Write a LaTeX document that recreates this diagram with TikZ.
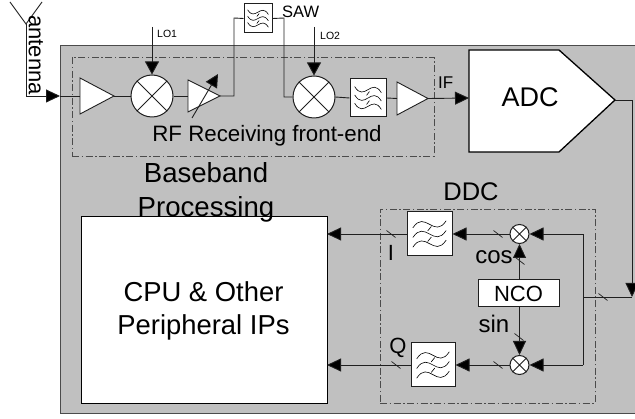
\documentclass[tikz,border=0pt]{standalone}
\usepackage{fontspec}
\setmainfont{Liberation Sans}
\usetikzlibrary{arrows.meta,calc}
\definecolor{panel}{gray}{0.753}
\definecolor{ink}{gray}{0.12}
\tikzset{
  txt/.style={inner sep=0pt,text=black,font=\fontsize{#1}{#1}\selectfont},
  wire/.style={draw=ink,line width=0.9pt},
  arr/.style={wire,-{Triangle[length=14pt,width=13pt,fill=black]}},
  smallarr/.style={wire,-{Triangle[length=13pt,width=14pt,fill=black]}},
  dashbox/.style={draw=ink!80,line width=0.6pt,dash pattern=on 7pt off 2.5pt on 1.5pt off 2.5pt},
  blockbox/.style={draw=ink,fill=white,line width=1pt,inner sep=0pt,minimum width=#1},
  tickmark/.style={draw=ink,line width=0.7pt},
  mixnode/.style={circle,draw=ink,fill=white,line width=1pt,inner sep=0pt,minimum size=#1},
}
% mixer: name, position, diameter
\newcommand{\mixer}[3]{%
  \node[mixnode=#3] (#1) at (#2) {};
  \draw[wire] (#1.45)--(#1.225) (#1.135)--(#1.315);
}
% amplifier: name, x-left, y-top, y-bottom, x-tip
\newcommand{\amp}[5]{%
  \coordinate (#1in) at (#2,{(#3+#4)/2});
  \coordinate (#1out) at (#5,{(#3+#4)/2});
  \filldraw[draw=ink,fill=white,line width=0.9pt] (#2,#3)--(#2,#4)--(#1out)--cycle;
}
% filter: name, position, width, height, wave sign
\newcommand{\filt}[5]{%
  \node[blockbox=#3pt,minimum height=#4pt] (#1) at (#2) {};
  \begin{scope}[shift={(#1.center)},x=#3pt,y=-#4pt]
    \foreach \dy in {-0.22,0,0.22}{
      \draw[draw=black,line width=0.6pt] (-0.37,{\dy+#5*0.08}) .. controls (-0.1,{\dy-#5*0.34}) and (0.1,{\dy+#5*0.34}) .. (0.37,{\dy-#5*0.08});
    }
    \draw[draw=black,line width=0.6pt] (-0.04,{0.17})--(0.04,{0.07}) (-0.04,{-0.07})--(0.04,{-0.17});
  \end{scope}
}
\newcommand{\tickat}[1]{\draw[tickmark] ($(#1)+(-4.5,-3.5)$)--($(#1)+(4.5,3.5)$);}
\begin{document}
\begin{tikzpicture}[x=1pt,y=-1pt]
\useasboundingbox (0,0) rectangle (635,419);
% panel
\filldraw[draw=ink!80,fill=panel,line width=1pt] (60,46)--(60,414)--(636,414)--(636,46)--cycle;
% group frames
\node[dashbox,inner sep=0pt,minimum width=362pt,minimum height=99pt] (rfbox) at (253,106.5) {};
\node[dashbox,inner sep=0pt,minimum width=215pt,minimum height=194pt] (ddcbox) at (487.5,306) {};
% antenna
\coordinate (antbase) at (26,24);
\coordinate (antl) at (10,2);
\coordinate (antr) at (42,2);
\coordinate (antfoot) at (26,96);
\coordinate (panelin) at (60,96);
\draw[wire] (antl)--(antbase)--(antr);
\node[txt=22,rotate=-90] (antlabel) at (36,55) {antenna};
% RF chain
\amp{ampa}{80}{78}{114}{114}
\mixer{mixa}{152,96}{42pt}
\amp{ampb}{188}{80}{112}{220}
\filt{sawbox}{258,18.5}{28}{29}{-1}
\mixer{mixb}{314,97}{42pt}
\filt{filtrf}{368,98}{36}{38}{-1}
\amp{ampc}{397}{82}{115}{428}
% ADC
\coordinate (adcnw) at (469,50);
\coordinate (adcne) at (559,50);
\coordinate (adctip) at (615,100);
\coordinate (adcse) at (559,152);
\coordinate (adcsw) at (469,152);
\coordinate (adcin) at (469,98);
\filldraw[draw=black,fill=white,line width=1.3pt] (adcnw)--(adcne)--(adctip)--(adcse)--(adcsw)--cycle;
\node[txt=27] (adclabel) at (530,97) {ADC};
% RF connectors
\draw[arr] (antbase)--(antfoot)--(panelin);
\draw[wire] (panelin)--(ampain);
\draw[wire] (ampaout)--(mixa.west);
\draw[wire] (mixa.east)--(ampbin);
\draw[wire] (ampbout)--(234,96)--(234,18)--(sawbox.west);
\draw[wire] (sawbox.east)--(284,18)--(284,97)--(mixb.west);
\draw[wire] (mixb.east)--(filtrf.west);
\draw[wire] (filtrf.east)--(ampcin);
\draw[arr] (ampcout)--(adcin);
% variable gain arrow
\coordinate (vgastart) at (192,118);
\coordinate (vgaend) at (218,74);
\draw[wire,-{Triangle[length=13pt,width=13pt,fill=black]}] (vgastart)--(vgaend);
% LOs
\coordinate (loa) at (152,27);
\coordinate (lob) at (314,27);
\draw[smallarr] (loa)--(mixa.north);
\draw[smallarr] (lob)--(mixb.north);
% texts RF
\node[txt=10.5,anchor=west] (loatext) at (157,34) {LO1};
\node[txt=10.5,anchor=west] (lobtext) at (320,36) {LO2};
\node[txt=16.5,anchor=west] (sawtext) at (282,12) {SAW};
\node[txt=17,anchor=west] (iftext) at (438,83) {IF};
\node[txt=22.3] (rftext) at (267,136) {RF Receiving front-end};
% CPU
\node[blockbox=246pt,minimum height=187pt,draw=black] (cpu) at (204,310) {};
\node[txt=27.4,align=center] (cputext) at (203.5,311) {CPU \& Other\\[6pt]Peripheral IPs};
\node[txt=27.6] (bbtexta) at (206,173) {Baseband};
\node[txt=27.6] (bbtextb) at (206,209) {Processing};
\node[txt=25.5] (ddctext) at (471,192) {DDC};
% DDC parts
\filt{filti}{429.5,234}{45}{44}{1}
\filt{filtq}{433,365}{44}{44}{1}
\mixer{mixi}{519.5,234}{19pt}
\mixer{mixq}{519.5,365}{19pt}
\node[blockbox=81pt,minimum height=27pt] (nco) at (518.5,293.5) {};
\node[txt=22] (ncotext) at (518.5,293.5) {NCO};
\node[txt=22] (itext) at (391,253) {I};
\node[txt=22] (qtext) at (398,348) {Q};
\node[txt=24] (costext) at (494,257) {cos};
\node[txt=24] (sintext) at (494,324) {sin};
% DDC connectors
\coordinate (split) at (583,297);
\coordinate (corner) at (632,297);
\coordinate (adcturn) at (632,100);
\coordinate (splitt) at (583,234);
\coordinate (splitb) at (583,365);
\draw[arr] (adctip)--(adcturn)--(corner);
\draw[wire] (corner)--(split);
\draw[wire] (split)--(splitt);
\draw[wire] (split)--(splitb);
\draw[arr] (splitt)--(mixi.east);
\draw[arr] (splitb)--(mixq.east);
\draw[arr] (mixi.west)--(filti.east);
\draw[arr] (mixq.west)--(filtq.east);
\draw[arr] (nco.north -| mixi)--(mixi.south);
\draw[arr] (nco.south -| mixq)--(mixq.north);
\coordinate (cpui) at (327,234);
\coordinate (cpuq) at (327,365);
\draw[arr] (filti.west)--(cpui);
\draw[arr] (filtq.west)--(cpuq);
% ticks
\tickat{391,234}
\tickat{498,234}
\tickat{520,261}
\tickat{603,297}
\tickat{519,337}
\tickat{396,365}
\tickat{498,365}
\end{tikzpicture}
\end{document}
